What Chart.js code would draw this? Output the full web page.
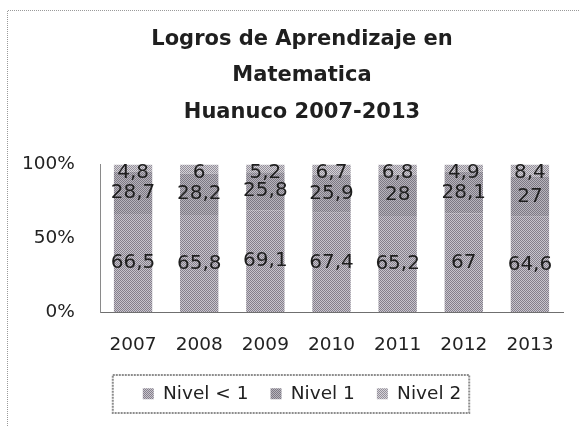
<!DOCTYPE html>
<html>
<head>
<meta charset="utf-8">
<script src="https://cdn.jsdelivr.net/npm/chart.js@4/dist/chart.umd.min.js"></script>
<style>
  html, body { margin: 0; padding: 0; background: #fff; }
  #wrap { width: 580px; height: 426px; position: relative; }
</style>
</head>
<body>
<div id="wrap"><canvas id="logrosChart" width="580" height="426"></canvas></div>
<script>
// --- Data ---
const years = ['2007', '2008', '2009', '2010', '2011', '2012', '2013'];
const nivelMenos1 = [66.5, 65.8, 69.1, 67.4, 65.2, 67, 64.6];
const nivel1 = [28.7, 28.2, 25.8, 25.9, 28, 28.1, 27];
const nivel2 = [4.8, 6, 5.2, 6.7, 6.8, 4.9, 8.4];
const yTicks = [0, 50, 100];

const titleLines = ['Logros de Aprendizaje en', 'Matematica', 'Huanuco 2007-2013'];

const FONT = '"DejaVu Sans", sans-serif';

// dithered gray fill, like the scanned print
function makePattern(dark, light) {
    const c = document.createElement('canvas');
    c.width = 4; c.height = 4;
    const g = c.getContext('2d');
    g.fillStyle = light;
    g.fillRect(0, 0, 4, 4);
    g.fillStyle = dark;
    for (let y = 0; y < 4; y++) {
        for (let x = 0; x < 4; x++) {
            if ((x + y) % 2 === 0) g.fillRect(x, y, 1, 1);
        }
    }
    return g.createPattern(c, 'repeat');
}

const ctx = document.getElementById('logrosChart').getContext('2d');
const fillMenos1 = makePattern('#857f8b', '#c8c5cd');
const fill1 = makePattern('#7c7883', '#b8b5bd');
const fill2 = makePattern('#938f99', '#d6d3d9');

// values written inside each segment, with a decimal comma
const segmentLabels = {
    id: 'segmentLabels',
    afterDatasetsDraw(chart) {
        const c = chart.ctx;
        c.save();
        c.font = '20px ' + FONT;
        c.fillStyle = '#1f1f1f';
        c.textAlign = 'center';
        c.textBaseline = 'middle';
        chart.data.datasets.forEach((ds, i) => {
            const meta = chart.getDatasetMeta(i);
            meta.data.forEach((bar, j) => {
                let y = (bar.y + bar.base) / 2;
                y = Math.max(y, chart.chartArea.top + 8);
                c.fillText(String(ds.data[j]).replace('.', ','), bar.x, y);
            });
        });
        c.restore();
    }
};

// dotted frame of the chart area and the box round the legend
const frames = {
    id: 'frames',
    beforeDraw(chart) {
        const c = chart.ctx;
        c.save();
        c.strokeStyle = '#9a9a9a';
        c.lineWidth = 1;
        c.setLineDash([1, 1]);
        c.beginPath();
        c.moveTo(7.5, 426);
        c.lineTo(7.5, 10.5);
        c.lineTo(580, 10.5);
        c.stroke();
        c.restore();
    },
    afterDraw(chart) {
        const lg = chart.legend;
        if (!lg || !lg.legendHitBoxes.length) return;
        const boxes = lg.legendHitBoxes;
        const first = boxes[0];
        const last = boxes[boxes.length - 1];
        const c = chart.ctx;
        c.save();
        c.strokeStyle = '#8d8d8d';
        c.lineWidth = 2;
        c.setLineDash([2, 1]);
        c.strokeRect(first.left - 30, 375, (last.left + last.width + 8) - (first.left - 30), 38);
        c.restore();
    }
};

new Chart(ctx, {
    type: 'bar',
    data: {
        labels: years,
        datasets: [{
            label: 'Nivel < 1',
            data: nivelMenos1,
            backgroundColor: fillMenos1,
            borderWidth: 0
        }, {
            label: 'Nivel 1',
            data: nivel1,
            backgroundColor: fill1,
            borderWidth: 0
        }, {
            label: 'Nivel 2',
            data: nivel2,
            backgroundColor: fill2,
            borderWidth: 0
        }]
    },
    options: {
        responsive: false,
        animation: false,
        layout: { padding: { left: 41, right: 17, top: 0, bottom: 13 } },
        datasets: { bar: { barPercentage: 0.58, categoryPercentage: 1 } },
        plugins: {
            title: {
                display: true,
                text: titleLines,
                color: '#1f1f1f',
                font: { family: FONT, size: 21, weight: 'bold', lineHeight: 1.74 },
                padding: { top: 21, bottom: 34 }
            },
            legend: {
                position: 'bottom',
                labels: {
                    color: '#222',
                    font: { family: FONT, size: 18.5 },
                    boxWidth: 11,
                    boxHeight: 11,
                    padding: 22
                }
            },
            tooltip: { enabled: false }
        },
        scales: {
            x: {
                stacked: true,
                grid: { display: false, drawTicks: false },
                border: { display: true, color: '#6f6f6f', width: 1 },
                ticks: { color: '#222', font: { family: FONT, size: 18.5 }, padding: 22, maxRotation: 0 },
                afterFit: (scale) => { scale.height = 50.5; }
            },
            y: {
                stacked: true,
                min: 0,
                max: 100,
                grid: { display: false, drawTicks: false },
                border: { display: true, color: '#8a8a8a', width: 1 },
                afterBuildTicks: (scale) => { scale.ticks = yTicks.map(v => ({ value: v })); },
                ticks: {
                    color: '#222',
                    font: { family: FONT, size: 18.5 },
                    // mirrored + far alignment keeps the labels unclipped left of the narrow axis box;
                    // right edge lands 25px left of the axis line ("100%" is ~53px wide)
                    mirror: true,
                    crossAlign: 'far',
                    padding: -78,
                    callback: (v) => v + '%'
                },
                afterFit: (scale) => { scale.width = 59; }
            }
        }
    },
    plugins: [segmentLabels, frames]
});
</script>
</body>
</html>
